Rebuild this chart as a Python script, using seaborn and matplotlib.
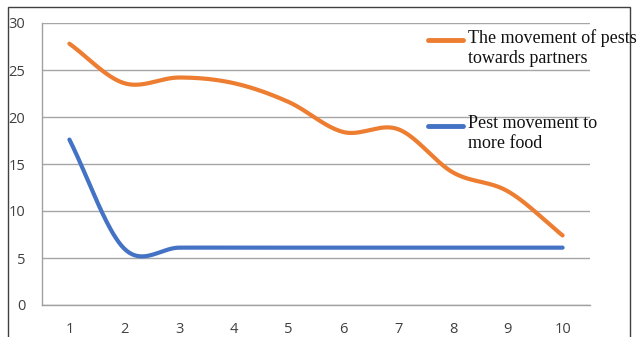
import numpy as np
import pandas as pd
import seaborn as sns
import matplotlib.pyplot as plt
from matplotlib.lines import Line2D
from matplotlib.patches import Rectangle

# %% data
steps = [1, 2, 3, 4, 5, 6, 7, 8, 9, 10]
partners = [27.8, 23.6, 24.2, 23.6, 21.6, 18.4, 18.7, 14.1, 12.1, 7.4]
food = [17.6, 6.0, 6.1, 6.1, 6.1, 6.1, 6.1, 6.1, 6.1, 6.1]
name_partners = "The movement of pests\ntowards partners"
name_food = "Pest movement to\nmore food"
y_ticks = [0, 5, 10, 15, 20, 25, 30]


def smooth(x, y, n=40):
    # Excel-like smoothed line (Catmull-Rom)
    x = np.asarray(x, float)
    y = np.asarray(y, float)
    p = np.concatenate([[2 * y[0] - y[1]], y, [2 * y[-1] - y[-2]]])
    xs, ys = [], []
    for i in range(len(y) - 1):
        t = np.linspace(0, 1, n, endpoint=(i == len(y) - 2))
        p0, p1, p2, p3 = p[i], p[i + 1], p[i + 2], p[i + 3]
        m1 = (p2 - p0) / 2
        m2 = (p3 - p1) / 2
        h00 = 2 * t**3 - 3 * t**2 + 1
        h10 = t**3 - 2 * t**2 + t
        h01 = -2 * t**3 + 3 * t**2
        h11 = t**3 - t**2
        ys.append(h00 * p1 + h10 * m1 + h01 * p2 + h11 * m2)
        xs.append(x[i] + t * (x[i + 1] - x[i]))
    return np.concatenate(xs), np.concatenate(ys)


sx, sy1 = smooth(steps, partners)
_, sy2 = smooth(steps, food)
df = pd.DataFrame({"x": np.concatenate([sx, sx]),
                   "y": np.concatenate([sy1, sy2]),
                   "s": ["p"] * len(sx) + ["f"] * len(sx)})

sns.set_style("white")
plt.rcParams['font.family'] = ['Open Sans', 'DejaVu Sans']

fig = plt.figure(figsize=(6.37, 3.37), dpi=100)
ax = fig.add_axes([42 / 637, 1 - 305 / 337, (590 - 42) / 637, (305 - 23) / 337])

orange = "#ED7D31"
blue = "#4472C4"
sns.lineplot(data=df, x="x", y="y", hue="s", palette={"p": orange, "f": blue},
             linewidth=3, legend=False, ax=ax, sort=False, zorder=3)
for l in ax.lines:
    l.set_solid_capstyle("round")

ax.set_xlim(0.5, 10.5)
ax.set_ylim(0, 30)
ax.set_yticks(y_ticks)
ax.set_xticks(steps)
ax.set_xticklabels([str(s) for s in steps])
ax.set_xticks(np.arange(0.5, 11, 1), minor=True)
ax.tick_params(axis="x", which="major", length=0, pad=12, labelsize=10.5, labelcolor="#404040")
ax.tick_params(axis="x", which="minor", length=4, width=1, color="#a0a0a0", direction="out")
ax.tick_params(axis="y", length=5, width=1, color="#a0a0a0", pad=7, labelsize=10.5, labelcolor="#404040")
ax.set_xlabel("")
ax.set_ylabel("")
ax.grid(axis="y", color="#a6a6a6", linewidth=1)
ax.grid(axis="x", visible=False)
for s in ["top", "right"]:
    ax.spines[s].set_visible(False)
for s in ["left", "bottom"]:
    ax.spines[s].set_color("#a0a0a0")
    ax.spines[s].set_linewidth(1)

# legend on the right
W, H = 637, 337
for c, ly, label in [(orange, 40, name_partners), (blue, 126, name_food)]:
    fig.add_artist(Line2D([428 / W, 463 / W], [1 - ly / H, 1 - ly / H], color=c,
                          linewidth=3.5, solid_capstyle="round"))
    fig.text(468 / W, 1 - (ly - 11) / H, label, family=["Liberation Serif"],
             fontsize=13, va="top", ha="left", color="#111111", linespacing=1.25)

# chart border
fig.add_artist(Rectangle((8 / W, -0.1), (630 - 8) / W, 1.1 - 7 / H, transform=fig.transFigure,
                         fill=False, edgecolor="#404040", linewidth=1))

fig.savefig("out.png", dpi=100)
